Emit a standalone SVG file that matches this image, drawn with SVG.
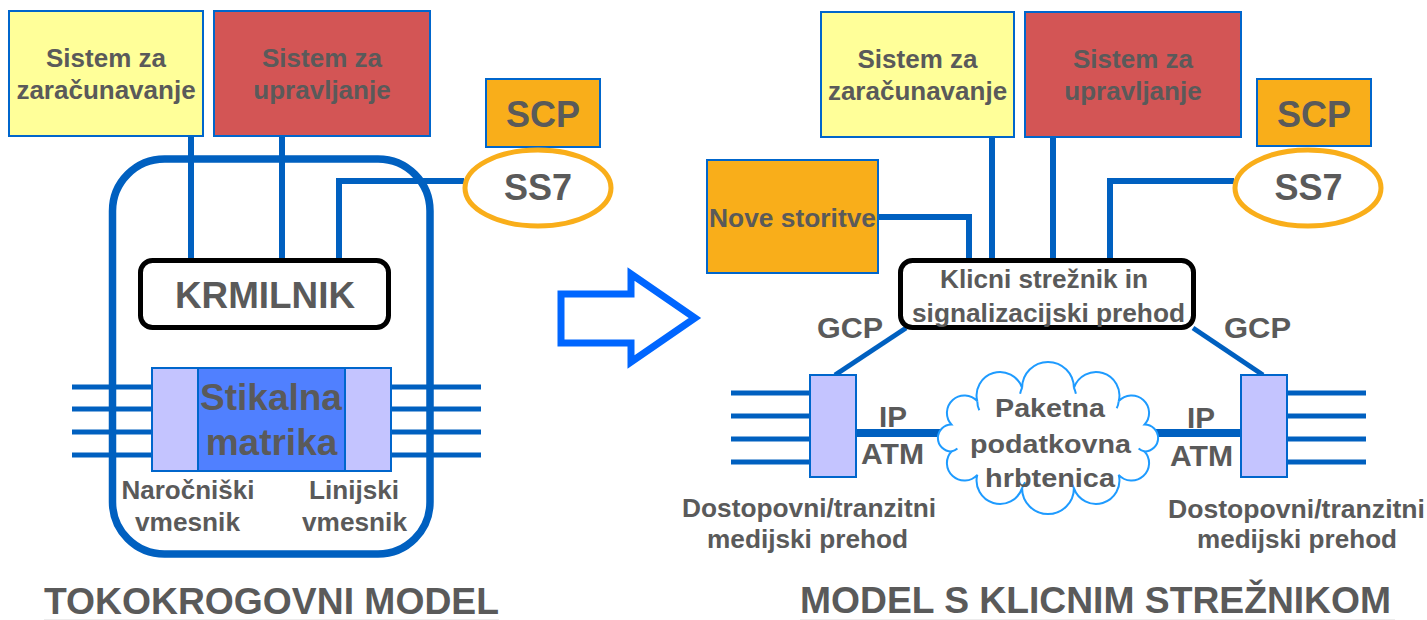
<svg xmlns="http://www.w3.org/2000/svg" width="1427" height="620" viewBox="0 0 1427 620">
<style>
.t{font-family:"Liberation Sans",Arial,sans-serif;font-weight:bold;fill:#5a5a5a;text-anchor:middle}
.ln{stroke:#0060C0;stroke-width:6;fill:none}
.tr{stroke:#0060C0;stroke-width:5;fill:none}
.box{stroke:#0066CC;stroke-width:2}
.yel{fill:#FFFF99}
.red{fill:#D35555}
.org{fill:#F9AE1A}
.lav{fill:#C4C4FF}
.ctl{fill:#fff;stroke:#000;stroke-width:5}
.ell{fill:#fff;stroke:#F9AE1A;stroke-width:5}
.cl{fill:none;stroke:#1E9BFF;stroke-width:2}
</style>

<!-- connectors -->
<g id="connectors">
  <!-- left model -->
  <rect x="112.5" y="159" width="317.5" height="395" rx="52" ry="52" fill="none" stroke="#0060C0" stroke-width="7.5"/>
  <line class="ln" x1="191" y1="136" x2="191" y2="260"/>
  <line class="ln" x1="282" y1="136" x2="282" y2="260"/>
  <polyline class="ln" points="464,181 339,181 339,260"/>
  <g class="tr">
    <line x1="72" y1="387" x2="152" y2="387"/>
    <line x1="72" y1="409" x2="152" y2="409"/>
    <line x1="72" y1="432" x2="152" y2="432"/>
    <line x1="72" y1="455" x2="152" y2="455"/>
    <line x1="391" y1="387" x2="481" y2="387"/>
    <line x1="391" y1="409" x2="481" y2="409"/>
    <line x1="391" y1="432" x2="481" y2="432"/>
    <line x1="391" y1="455" x2="481" y2="455"/>
  </g>
  <!-- right model -->
  <polyline class="ln" points="878,217 969,217 969,260"/>
  <line class="ln" x1="992" y1="137" x2="992" y2="260"/>
  <line class="ln" x1="1053" y1="137" x2="1053" y2="260"/>
  <polyline class="ln" points="1234,181 1110,181 1110,260"/>
  <line class="tr" x1="906" y1="328" x2="835" y2="375"/>
  <line class="tr" x1="1193" y1="328" x2="1263" y2="375"/>
  <line x1="856" y1="433" x2="945" y2="433" stroke="#0060C0" stroke-width="8"/>
  <line x1="1150" y1="433" x2="1241" y2="433" stroke="#0060C0" stroke-width="8"/>
  <g class="tr">
    <line x1="731" y1="393" x2="810" y2="393"/>
    <line x1="731" y1="416" x2="810" y2="416"/>
    <line x1="731" y1="439" x2="810" y2="439"/>
    <line x1="731" y1="462" x2="810" y2="462"/>
    <line x1="1287" y1="393" x2="1366" y2="393"/>
    <line x1="1287" y1="416" x2="1366" y2="416"/>
    <line x1="1287" y1="439" x2="1366" y2="439"/>
    <line x1="1287" y1="462" x2="1366" y2="462"/>
  </g>
</g>

<!-- LEFT: circuit-switched model -->
<g id="billing-left">
  <rect class="box yel" x="9" y="11" width="194" height="125"/>
  <text class="t" font-size="26" x="106" y="67">Sistem za</text>
  <text class="t" font-size="26" x="106" y="99">zaračunavanje</text>
</g>
<g id="mgmt-left">
  <rect class="box red" x="214" y="11" width="216" height="125"/>
  <text class="t" font-size="26" x="322" y="67">Sistem za</text>
  <text class="t" font-size="26" x="322" y="99">upravljanje</text>
</g>
<g id="scp-left">
  <rect class="box org" x="486" y="79" width="114" height="68"/>
  <text class="t" font-size="36" x="543" y="127">SCP</text>
</g>
<g id="ss7-left">
  <ellipse class="ell" cx="538" cy="188" rx="73" ry="38"/>
  <text class="t" font-size="36" x="538" y="200">SS7</text>
</g>
<g id="krmilnik">
  <rect class="ctl" x="140.5" y="260.5" width="248" height="67" rx="12" ry="12"/>
  <text class="t" font-size="36" x="265" y="308" textLength="180" lengthAdjust="spacingAndGlyphs">KRMILNIK</text>
</g>
<g id="matrix">
  <rect class="box lav" x="152" y="368" width="46" height="103"/>
  <rect class="box" fill="#5080FF" x="198" y="368" width="147" height="103"/>
  <rect class="box lav" x="345" y="368" width="46" height="103"/>
  <text class="t" font-size="37" x="271" y="410">Stikalna</text>
  <text class="t" font-size="37" x="271.5" y="455">matrika</text>
</g>
<g id="if-narocniski">
  <text class="t" font-size="25" x="188" y="499" textLength="133" lengthAdjust="spacingAndGlyphs">Naročniški</text>
  <text class="t" font-size="25" x="187.5" y="531" textLength="105" lengthAdjust="spacingAndGlyphs">vmesnik</text>
</g>
<g id="if-linijski">
  <text class="t" font-size="25" x="354" y="499" textLength="90" lengthAdjust="spacingAndGlyphs">Linijski</text>
  <text class="t" font-size="25" x="354.5" y="531" textLength="105" lengthAdjust="spacingAndGlyphs">vmesnik</text>
</g>
<g id="title-left">
  <text class="t" font-size="36" x="271.5" y="614" textLength="455" lengthAdjust="spacingAndGlyphs">TOKOKROGOVNI MODEL</text>
  <line x1="44" y1="619.5" x2="499" y2="619.5" stroke="#ececec" stroke-width="1"/>
</g>

<!-- transition arrow -->
<g id="arrow">
  <polygon points="561,294 631,294 631,274 695,318 631,362 631,343 561,343" fill="#fff" stroke="#0066FF" stroke-width="7"/>
</g>

<!-- RIGHT: call server model -->
<g id="billing-right">
  <rect class="box yel" x="821" y="12" width="193" height="125"/>
  <text class="t" font-size="26" x="917.5" y="68">Sistem za</text>
  <text class="t" font-size="26" x="917.5" y="100">zaračunavanje</text>
</g>
<g id="mgmt-right">
  <rect class="box red" x="1025" y="12" width="216" height="125"/>
  <text class="t" font-size="26" x="1133" y="68">Sistem za</text>
  <text class="t" font-size="26" x="1133" y="100">upravljanje</text>
</g>
<g id="scp-right">
  <rect class="box org" x="1257" y="79" width="114" height="67"/>
  <text class="t" font-size="36" x="1314" y="127">SCP</text>
</g>
<g id="ss7-right">
  <ellipse class="ell" cx="1308" cy="188" rx="73" ry="38"/>
  <text class="t" font-size="36" x="1308.5" y="200">SS7</text>
</g>
<g id="nove-storitve">
  <rect class="box org" x="707" y="160" width="171" height="113"/>
  <text class="t" font-size="26" x="792.5" y="227" textLength="167" lengthAdjust="spacingAndGlyphs">Nove storitve</text>
</g>
<g id="klicni-streznik">
  <rect class="ctl" x="900.5" y="260.5" width="293" height="67" rx="12" ry="12"/>
  <text class="t" font-size="26" x="1044" y="288" textLength="208" lengthAdjust="spacingAndGlyphs">Klicni strežnik in</text>
  <text class="t" font-size="26" x="1048.5" y="322" textLength="273" lengthAdjust="spacingAndGlyphs">signalizacijski prehod</text>
</g>
<g id="gcp-labels">
  <text class="t" font-size="29" x="850" y="338" textLength="66" lengthAdjust="spacingAndGlyphs">GCP</text>
  <text class="t" font-size="29" x="1257.5" y="338" textLength="67" lengthAdjust="spacingAndGlyphs">GCP</text>
</g>
<g id="gateway-left">
  <rect class="box lav" x="810" y="375" width="46" height="102"/>
  <text class="t" font-size="25" x="809" y="517" textLength="254" lengthAdjust="spacingAndGlyphs">Dostopovni/tranzitni</text>
  <text class="t" font-size="25" x="807.5" y="548" textLength="201" lengthAdjust="spacingAndGlyphs">medijski prehod</text>
</g>
<g id="gateway-right">
  <rect class="box lav" x="1241" y="375" width="46" height="102"/>
  <text class="t" font-size="25" x="1296.5" y="518" textLength="257" lengthAdjust="spacingAndGlyphs">Dostopovni/tranzitni</text>
  <text class="t" font-size="25" x="1297" y="548" textLength="200" lengthAdjust="spacingAndGlyphs">medijski prehod</text>
</g>
<g id="ip-atm-labels">
  <text class="t" font-size="29" x="893" y="427" textLength="28" lengthAdjust="spacingAndGlyphs">IP</text>
  <text class="t" font-size="29" x="892.5" y="464" textLength="63" lengthAdjust="spacingAndGlyphs">ATM</text>
  <text class="t" font-size="29" x="1201" y="428" textLength="28" lengthAdjust="spacingAndGlyphs">IP</text>
  <text class="t" font-size="29" x="1201.5" y="466" textLength="63" lengthAdjust="spacingAndGlyphs">ATM</text>
</g>
<g id="backbone-cloud">
  <path d="M1144.6,451.5 A17.4,17.4 0 0 1 1118.7,474.8 A23.4,23.4 0 0 1 1073.9,488.2 A25.9,25.9 0 0 1 1022.1,488.2 A23.4,23.4 0 0 1 977.3,474.8 A17.4,17.4 0 0 1 951.4,451.5 A13.5,13.5 0 0 1 951.4,424.5 A17.4,17.4 0 0 1 977.3,401.2 A23.4,23.4 0 0 1 1022.1,387.8 A25.9,25.9 0 0 1 1073.9,387.8 A23.4,23.4 0 0 1 1118.7,401.2 A17.4,17.4 0 0 1 1144.6,424.5 A13.5,13.5 0 0 1 1144.6,451.5 Z" fill="#fff" stroke="#1E9BFF" stroke-width="2"/>
  <path class="cl" d="M977.3,401.2 a20,20 0 0 0 2,9"/>
  <path class="cl" d="M1022.1,387.8 a25,25 0 0 0 -2,6"/>
  <path class="cl" d="M1073.9,387.8 a25,25 0 0 1 2,6"/>
  <path class="cl" d="M1118.7,401.2 a18,18 0 0 1 -2,7"/>
  <path class="cl" d="M1144.6,451.5 a14,14 0 0 1 -6,-3"/>
  <path class="cl" d="M1073.9,488.2 a25,25 0 0 0 -3,-6"/>
  <path class="cl" d="M1022.1,488.2 a25,25 0 0 1 3,-6"/>
  <path class="cl" d="M951.4,451.5 a14,14 0 0 0 6,-3"/>
  <text class="t" font-size="26" x="1050" y="417" textLength="110" lengthAdjust="spacingAndGlyphs">Paketna</text>
  <text class="t" font-size="26" x="1050.5" y="453" textLength="161" lengthAdjust="spacingAndGlyphs">podatkovna</text>
  <text class="t" font-size="26" x="1050" y="487" textLength="130" lengthAdjust="spacingAndGlyphs">hrbtenica</text>
</g>
<g id="title-right">
  <text class="t" font-size="36" x="1095.5" y="613" textLength="591" lengthAdjust="spacingAndGlyphs">MODEL S KLICNIM STREŽNIKOM</text>
  <line x1="800" y1="619.5" x2="1395" y2="619.5" stroke="#ececec" stroke-width="1"/>
</g>
</svg>
